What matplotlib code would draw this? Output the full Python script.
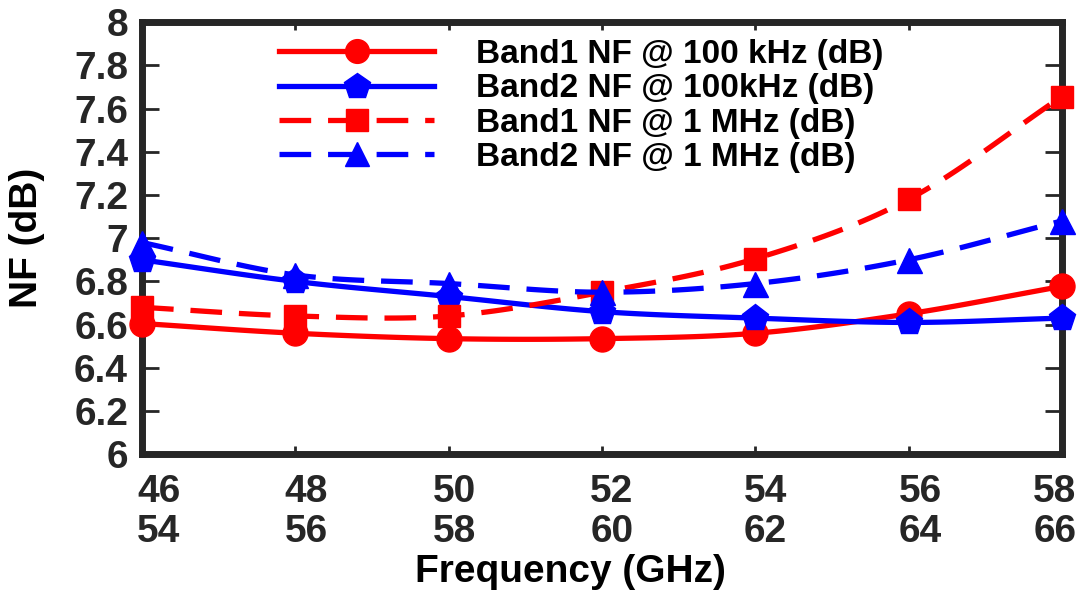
import matplotlib
matplotlib.use('Agg')
import matplotlib.pyplot as plt
import matplotlib.transforms as mtrans
import numpy as np

# datos
band1_ghz = [46, 48, 50, 52, 54, 56, 58]
band2_ghz = [54, 56, 58, 60, 62, 64, 66]
b1_100k = [6.605, 6.56, 6.535, 6.535, 6.56, 6.65, 6.777]
b2_100k = [6.90, 6.80, 6.73, 6.66, 6.63, 6.61, 6.63]
b1_1m = [6.68, 6.64, 6.64, 6.75, 6.905, 7.18, 7.656]
b2_1m = [6.98, 6.83, 6.79, 6.75, 6.79, 6.90, 7.08]
labels = ['Band1 NF @ 100 kHz (dB)', 'Band2 NF @ 100kHz (dB)',
          'Band1 NF @ 1 MHz (dB)', 'Band2 NF @ 1 MHz (dB)']

plt.rcParams['font.family'] = ['Liberation Sans', 'DejaVu Sans']
plt.rcParams['font.weight'] = 'bold'

dark = '#262626'
n_sub = 20


def suave(x, y):
    # curva suavizada tipo Catmull-Rom entre los puntos (solo para dibujar)
    x = np.asarray(x, float)
    y = np.asarray(y, float)
    px = np.concatenate([[2 * x[0] - x[1]], x, [2 * x[-1] - x[-2]]])
    py = np.concatenate([[2 * y[0] - y[1]], y, [2 * y[-1] - y[-2]]])
    xs, ys = [], []
    t = np.linspace(0, 1, n_sub, endpoint=False)
    for i in range(1, len(px) - 2):
        for arr, out in ((px, xs), (py, ys)):
            p0, p1, p2, p3 = arr[i - 1], arr[i], arr[i + 1], arr[i + 2]
            out.extend(0.5 * ((2 * p1) + (-p0 + p2) * t
                              + (2 * p0 - 5 * p1 + 4 * p2 - p3) * t ** 2
                              + (-p0 + 3 * p1 - 3 * p2 + p3) * t ** 3))
    xs.append(x[-1])
    ys.append(y[-1])
    return np.array(xs), np.array(ys)


fig = plt.figure(figsize=(10.88, 6.0), dpi=100)
ax = fig.add_axes([0.1305, 0.243, 0.8455, 0.72])

series = [
    (b1_100k, 'red', '-', 'o', 18),
    (b2_100k, 'blue', '-', 'p', 20),
    (b1_1m, 'red', (0, (6, 3.2)), 's', 16),
    (b2_1m, 'blue', (0, (6, 3.2)), '^', 18),
]
marks = list(range(0, (len(band1_ghz) - 1) * n_sub + 1, n_sub))
for (vals, col, ls, mk, ms), lab in zip(series, labels):
    xs, ys = suave(band1_ghz, vals)
    ax.plot(xs, ys, color=col, linestyle=ls, linewidth=3.8, marker=mk,
            markersize=ms, markevery=marks, label=lab, clip_on=False, zorder=3)

ax.set_xlim(46, 58)
ax.set_ylim(6, 8)
ax.set_xticks(band1_ghz)
ax.set_xticklabels(['%d\n%d' % (a, b) for a, b in zip(band1_ghz, band2_ghz)],
                   linespacing=1.15)
ax.set_yticks(np.arange(6, 8.01, 0.2))
ax.set_yticklabels(['6', '6.2', '6.4', '6.6', '6.8', '7', '7.2', '7.4', '7.6', '7.8', '8'])
ax.tick_params(axis='both', direction='in', labelsize=28, colors=dark,
               labelcolor=dark, width=2)
ax.tick_params(axis='y', length=12, right=True, pad=10)
ax.tick_params(axis='x', length=6, top=True, pad=14)
for s in ax.spines.values():
    s.set_linewidth(5)
    s.set_color(dark)

# corrimiento de las etiquetas del eje x como en el original
desplaz = [17, 11, 6, 10, 10, 12, -7]
for lbl, dx in zip(ax.get_xticklabels(), desplaz):
    lbl.set_transform(lbl.get_transform() +
                      mtrans.ScaledTranslation(dx / 100, 0, fig.dpi_scale_trans))

ax.set_xlabel('Frequency (GHz)', fontsize=28, fontweight='bold', color='black')
ax.xaxis.set_label_coords(0.466, -0.232)
ax.set_ylabel('NF (dB)', fontsize=28, fontweight='bold', color='black')
ax.yaxis.set_label_coords(-0.105, 0.5)

ax.legend(loc='upper left', bbox_to_anchor=(0.131, 1.0), frameon=False,
          fontsize=24, handlelength=4.65, handletextpad=1.25,
          labelspacing=0.1, markerscale=0.95, borderaxespad=0.1)

plt.savefig('out.png', dpi=100)
